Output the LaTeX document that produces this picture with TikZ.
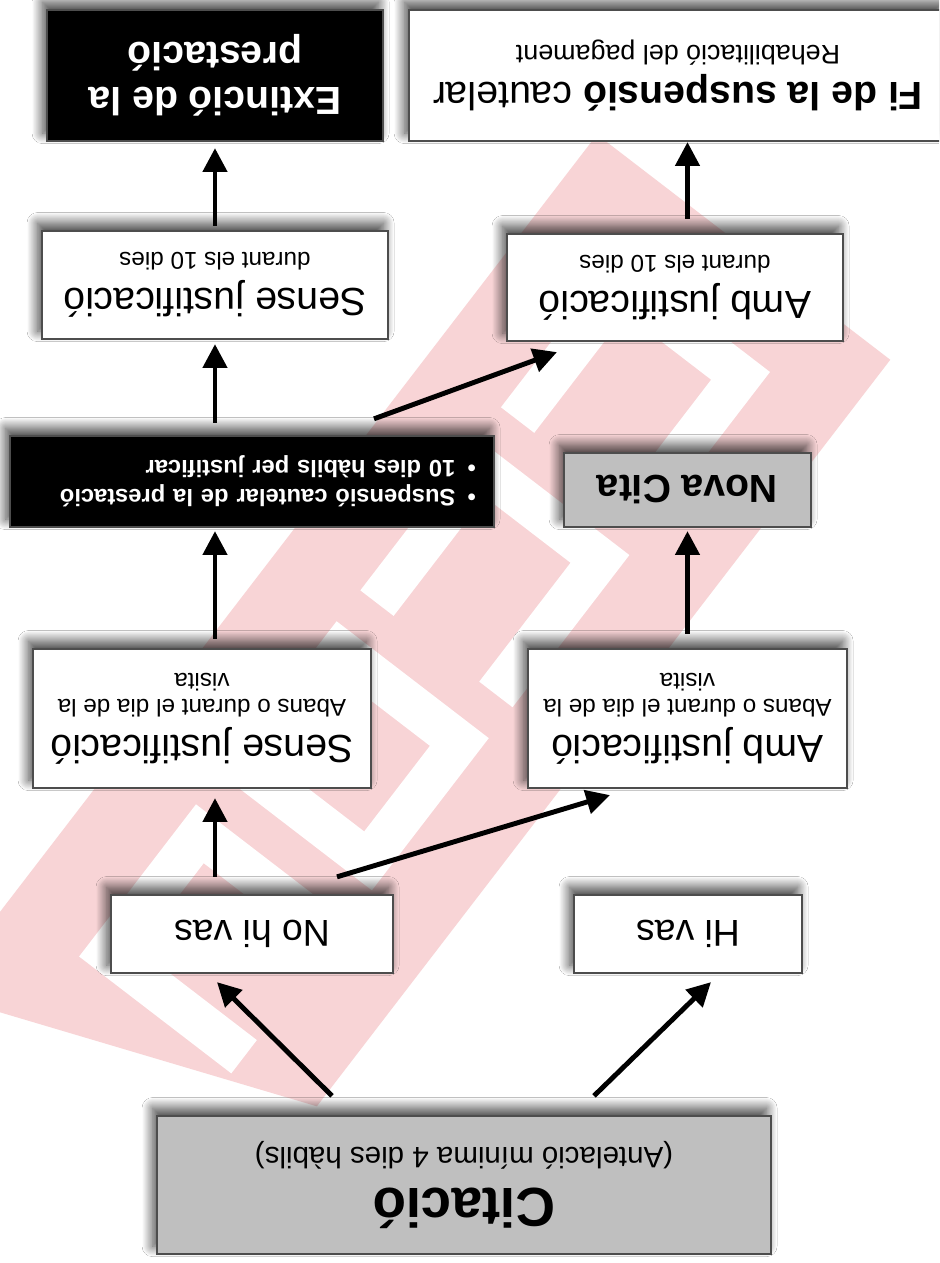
\documentclass[tikz,border=0pt]{standalone}
\usepackage{fontspec}
\setmainfont{Liberation Sans}
\usetikzlibrary{arrows.meta, calc, shadows.blur}

\definecolor{wmpink}{RGB}{248,212,214}
\definecolor{boxline}{RGB}{77,77,77}
\definecolor{citagrey}{RGB}{191,191,191}

\newcommand{\lgtxt}[1]{{\fontsize{22.3}{26}\selectfont #1}}

\tikzset{
    box/.style={draw=boxline, line width=1.3pt, fill=white, inner sep=0pt, align=center,
        font=\fontsize{13.8}{14.7}\selectfont,
        blur shadow={shadow xshift=-2.5pt, shadow yshift=4.5pt, shadow blur radius=6pt,
            shadow blur steps=30, shadow blur extra rounding=0pt, shadow opacity=75}},
    greybox/.style={box, fill=citagrey},
    blackbox/.style={box, fill=black, text=white},
    arr/.style={-{Triangle[length=13.5pt,width=13.5pt]}, line width=2.8pt},
}

\begin{document}
\begin{tikzpicture}[x=0.02cm, y=-0.02cm, rotate=180, transform shape]
    \useasboundingbox (0,0) rectangle (939,1263);
    \clip (0,0) rectangle (939,1263);
    \fill[white] (0,0) rectangle (939,1263);

    \begin{scope}[shift={(169,891)}, x={(-0.01218cm,-0.01586cm)}, y={(-0.01586cm,0.01218cm)}]
        \fill[wmpink] (83,-282) -- (83,88) -- (-859,88) -- (-1001,-282) -- cycle;
        \foreach \k in {0,-231}
            \fill[white] (\k,0) -- (\k,-192) -- (\k-192,-192) -- (\k-192,-150) -- (\k-42,-150)
                -- (\k-42,-42) -- (\k-192,-42) -- (\k-192,0) -- cycle;
        \fill[white, even odd rule] (-462,0) -- (-462,-192) -- (-654,-192) -- (-654,0) -- cycle
            (-504,-42) -- (-504,-150) -- (-612,-150) -- (-612,-42) -- cycle;
        \fill[white] (-693,0) -- (-693,-192) -- (-885,-192) -- (-885,0) -- (-843,0)
            -- (-843,-150) -- (-735,-150) -- (-735,0) -- cycle;
    \end{scope}

    \node[greybox, minimum width=12.28cm, minimum height=2.76cm, font=\fontsize{16.8}{23.6}\selectfont] (cit) at (475,78)
        {{\fontsize{31.2}{36}\selectfont\bfseries Citació}\\(Antelació mínima 4 dies hàbils)};
    \node[box, minimum width=4.56cm, minimum height=1.56cm, font=\fontsize{21.3}{25}\selectfont] (hivas) at (251,329) {Hi vas};
    \node[box, minimum width=5.64cm, minimum height=1.56cm, font=\fontsize{21.3}{25}\selectfont] (nohi) at (687,329) {No hi vas};
    \node[box, minimum width=6.38cm, minimum height=2.78cm] (ajb) at (251.5,544.5)
        {\lgtxt{Amb justificació}\\[5.7pt]Abans o durant el dia de la\\visita};
    \node[box, minimum width=6.76cm, minimum height=2.78cm] (sjb) at (737,544.5)
        {\lgtxt{Sense justificació}\\[5.7pt]Abans o durant el dia de la\\visita};
    \node[greybox, minimum width=4.94cm, minimum height=1.48cm, font=\bfseries\fontsize{22.3}{26}\selectfont] (nova) at (251.5,773) {Nova Cita};
    \node[blackbox, text width=8.96cm, inner xsep=0.36cm, minimum height=1.82cm, align=left,
        font=\bfseries\fontsize{13.5}{16.6}\selectfont] (susp) at (687,781.5)
        {\textbullet\hspace{7pt}Suspensió cautelar de la prestació\\\textbullet\hspace{7pt}10 dies hàbils per justificar};
    \node[box, minimum width=6.72cm, minimum height=2.14cm] (ajt) at (264,975.5)
        {\lgtxt{Amb justificació}\\[5.7pt]durant els 10 dies};
    \node[box, minimum width=6.92cm, minimum height=2.16cm] (sjt) at (724,978)
        {\lgtxt{Sense justificació}\\[5.7pt]durant els 10 dies};
    \node[box, minimum width=10.76cm, minimum height=2.62cm, font=\fontsize{15.3}{21}\selectfont] (fi) at (261,1187.5)
        {\lgtxt{\textbf{Fi de la suspensió} cautelar}\\Rehabilitació del pagament};
    \node[blackbox, minimum width=6.72cm, minimum height=2.62cm, font=\bfseries\fontsize{22.3}{25.5}\selectfont] (ext) at (724,1187.5)
        {Extinció de la\\prestació};

    \draw[arr] ($(cit.south)+(132,19)$) -- ($(nohi.north)+(35,-8)$);
    \draw[arr] ($(cit.south)+(-130,19)$) -- ($(hivas.north)+(-23,-8)$);
    \draw[arr] ($(nohi.south)+(-85,17)$) -- ($(ajb.north)+(77.5,-6)$);
    \draw[arr] ($(susp.south)+(-122,16)$) -- ($(ajt.north)+(118,-10)$);
    \draw[arr, shorten <=0.34cm, shorten >=0.18cm] (nohi.south -| ext) -- (sjb.north -| ext);
    \draw[arr, shorten <=0.18cm, shorten >=0.06cm] (sjb.south -| ext) -- (susp.north -| ext);
    \draw[arr, shorten <=0.24cm, shorten >=0.08cm] (susp.south -| ext) -- (sjt.north -| ext);
    \draw[arr, shorten <=0.08cm, shorten >=0.12cm] (sjt.south -| ext) -- (ext.north);
    \draw[arr, shorten <=0.28cm, shorten >=0.06cm] (ajb.south -| nova) -- (nova.north);
    \draw[arr, shorten <=0.28cm] (ajt.south -| nova) -- (fi.north -| nova);
\end{tikzpicture}
\end{document}
